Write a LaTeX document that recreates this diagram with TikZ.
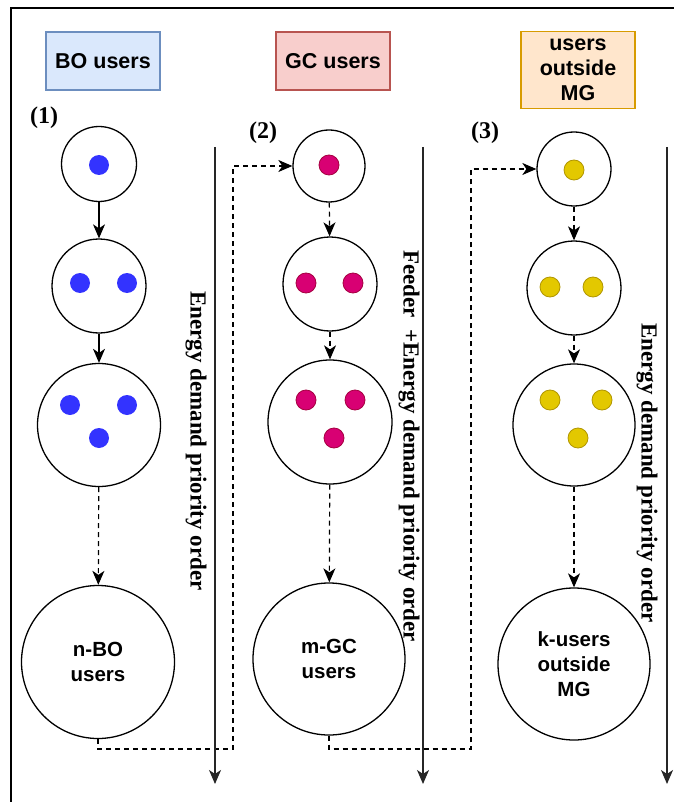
\documentclass[tikz,border=0pt]{standalone}
\usepackage{fontspec}
\setmainfont{Liberation Serif}
\setsansfont{Liberation Sans}
\usetikzlibrary{arrows.meta}

\definecolor{bofill}{HTML}{DAE8FC}
\definecolor{boline}{HTML}{6C8EBF}
\definecolor{gcfill}{HTML}{F8CECC}
\definecolor{gcline}{HTML}{B85450}
\definecolor{mgfill}{HTML}{FFE6CC}
\definecolor{mgline}{HTML}{D79B00}
\definecolor{bodot}{HTML}{3333FF}
\definecolor{gcdot}{HTML}{D80073}
\definecolor{gcdotline}{HTML}{A50040}
\definecolor{mgdot}{HTML}{E3C800}
\definecolor{mgdotline}{HTML}{B09500}

\tikzset{
  usergroup/.style={draw,line width=1.3pt,minimum width=114pt,inner sep=0pt,
    align=center,font=\sffamily\bfseries\fontsize{21.5}{25}\selectfont},
  usercircle/.style={circle,draw,line width=1.3pt,inner sep=0pt,align=center,
    font=\sffamily\bfseries\fontsize{20.5}{25}\selectfont},
  userdot/.style={circle,inner sep=0pt,minimum size=20pt},
  bo dot/.style={userdot,fill=bodot},
  gc dot/.style={userdot,fill=gcdot,draw=gcdotline,line width=0.8pt},
  mg dot/.style={userdot,fill=mgdot,draw=mgdotline,line width=0.8pt},
  steplabel/.style={font=\rmfamily\bfseries\fontsize{24}{28}\selectfont},
  priority/.style={rotate=-90,font=\rmfamily\bfseries\fontsize{23}{27}\selectfont},
  priority line/.style={->,line width=1.4pt,draw=black!85},
  link/.style={->,line width=1.2pt},
  dashlink/.style={->,line width=1.2pt,dashed,dash pattern=on 5pt off 4pt}
}

\begin{document}
\begin{tikzpicture}[x=1pt,y=-1pt,>={Stealth[length=14pt,width=12pt,inset=4pt]}]
  \useasboundingbox (0,0) rectangle (674,802);
  \draw[line width=2pt]
    (11,802)
    --
    (11,8)
    --
    (674,8);

  % group boxes
  \node[usergroup,fill=bofill,draw=boline,minimum height=58pt] (bo) at (103,61) {BO users};
  \node[usergroup,fill=gcfill,draw=gcline,minimum height=58pt] (gc) at (333,61) {GC users};
  \node[usergroup,fill=mgfill,draw=mgline,minimum height=77pt] (mg) at (578,70) {users\\outside\\MG};

  \node[steplabel] (s1) at (44,118) {(1)};
  \node[steplabel] (s2) at (263,133) {(2)};
  \node[steplabel] (s3) at (485,133) {(3)};

  % column (1)
  \node[usercircle,minimum size=75pt] (b1) at (99,164) {};
  \node[usercircle,minimum size=94pt] (b2) at (99,286) {};
  \node[usercircle,minimum size=123pt] (b3) at (99,425) {};
  \node[usercircle,minimum size=153pt] (b4) at (98,662) {n-BO\\users};
  \node[bo dot] (b1a) at (99,165) {};
  \node[bo dot] (b2a) at (80,283) {};
  \node[bo dot] (b2b) at (127,283) {};
  \node[bo dot] (b3a) at (70,405) {};
  \node[bo dot] (b3b) at (127,405) {};
  \node[bo dot] (b3c) at (99,438) {};
  \draw[link] (b1) -- (b2);
  \draw[link] (b2) -- (b3);
  \draw[dashlink] (b3) -- (b4);

  % column (2)
  \node[usercircle,minimum size=72pt] (g1) at (329,166) {};
  \node[usercircle,minimum size=94pt] (g2) at (330,284) {};
  \node[usercircle,minimum size=124pt] (g3) at (330,422) {};
  \node[usercircle,minimum size=152pt] (g4) at (329,659) {m-GC\\users};
  \node[gc dot] (g1a) at (329,165) {};
  \node[gc dot] (g2a) at (306,283) {};
  \node[gc dot] (g2b) at (353,283) {};
  \node[gc dot] (g3a) at (306,400) {};
  \node[gc dot] (g3b) at (355,400) {};
  \node[gc dot] (g3c) at (334,438) {};
  \draw[dashlink] (g1) -- (g2);
  \draw[dashlink] (g2) -- (g3);
  \draw[dashlink] (g3) -- (g4);

  % column (3)
  \node[usercircle,minimum size=74pt] (m1) at (574,169) {};
  \node[usercircle,minimum size=94pt] (m2) at (574,288) {};
  \node[usercircle,minimum size=122pt] (m3) at (574,425) {};
  \node[usercircle,minimum size=152pt] (m4) at (574,664) {k-users\\outside\\MG};
  \node[mg dot] (m1a) at (574,170) {};
  \node[mg dot] (m2a) at (550,287) {};
  \node[mg dot] (m2b) at (593,287) {};
  \node[mg dot] (m3a) at (550,400) {};
  \node[mg dot] (m3b) at (602,400) {};
  \node[mg dot] (m3c) at (578,438) {};
  \draw[dashlink] (m1) -- (m2);
  \draw[dashlink] (m2) -- (m3);
  \draw[dashlink] (m3) -- (m4);

  % hand-over between columns
  \coordinate (turn1) at (233,749);
  \coordinate (turn2) at (471,749);
  \draw[dashlink]
    (b4.south)
    |- (turn1)
    |- (g1.west);
  \draw[dashlink]
    (g4.south)
    |- (turn2)
    |- (m1.west);

  % priority axes
  \coordinate (top1) at (215,147);
  \coordinate (end1) at (215,784);
  \coordinate (top2) at (423,147);
  \coordinate (end2) at (423,784);
  \coordinate (top3) at (667,147);
  \coordinate (end3) at (667,784);
  \draw[priority line] (top1) -- (end1);
  \draw[priority line] (top2) -- (end2);
  \draw[priority line] (top3) -- (end3);
  \node[priority] (p1) at (196,441) {Energy demand priority order};
  \node[priority] (p2) at (409,446) {Feeder\ \ +Energy demand priority order};
  \node[priority] (p3) at (647,473) {Energy demand priority order};
\end{tikzpicture}
\end{document}
